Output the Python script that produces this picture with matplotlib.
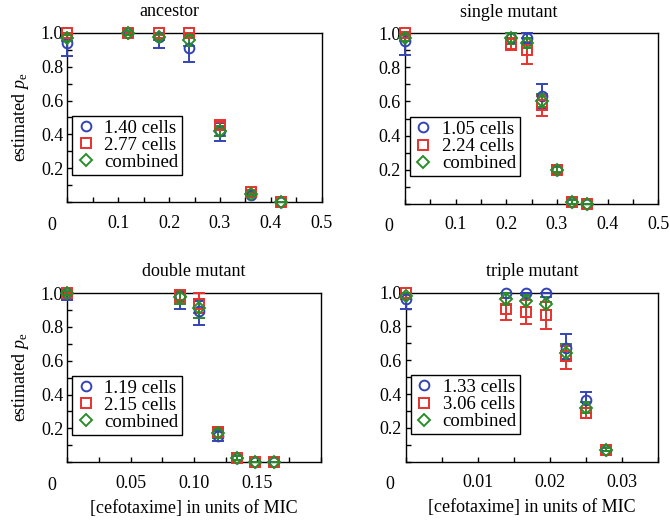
import numpy as np
import matplotlib
matplotlib.use("Agg")
from matplotlib import pyplot as plt
from matplotlib.ticker import MultipleLocator, FixedLocator, FixedFormatter

plt.rcParams['font.family'] = ['Liberation Serif', 'DejaVu Serif']
plt.rcParams['mathtext.fontset'] = 'custom'
plt.rcParams['mathtext.rm'] = 'Liberation Serif'
plt.rcParams['mathtext.it'] = 'Liberation Serif:italic'
plt.rcParams['font.size'] = 13

BLUE, RED, GREEN = '#3444b4', '#e8322e', '#2b8c2b'

# ancestor
anc_x = [0.0, 0.12, 0.18, 0.24, 0.30, 0.36, 0.42]
anc_b = [0.94, 1.0, 0.975, 0.91, 0.42, 0.045, 0.0]
anc_b_lo = [0.075, 0.01, 0.065, 0.08, 0.06, 0.01, 0.0]
anc_b_hi = [0.05, 0.0, 0.025, 0.08, 0.05, 0.01, 0.0]
anc_r = [1.0, 1.0, 1.0, 1.0, 0.455, 0.06, 0.0]
anc_r_lo = [0.01, 0.01, 0.015, 0.02, 0.025, 0.01, 0.0]
anc_r_hi = [0.0, 0.0, 0.0, 0.0, 0.02, 0.01, 0.0]
anc_g = [0.97, 1.0, 0.975, 0.955, 0.42, 0.05, 0.0]
anc_g_err = [0.02, 0.01, 0.02, 0.035, 0.03, 0.01, 0.0]

# single mutant
sin_x = [0.0, 0.21, 0.24, 0.27, 0.30, 0.33, 0.36]
sin_b = [0.955, 0.97, 0.975, 0.63, 0.2, 0.01, 0.0]
sin_b_lo = [0.08, 0.03, 0.03, 0.07, 0.025, 0.01, 0.0]
sin_b_hi = [0.04, 0.03, 0.025, 0.075, 0.025, 0.01, 0.0]
sin_r = [1.0, 0.94, 0.90, 0.58, 0.2, 0.01, 0.0]
sin_r_lo = [0.01, 0.035, 0.08, 0.065, 0.02, 0.01, 0.0]
sin_r_hi = [0.01, 0.03, 0.05, 0.05, 0.02, 0.01, 0.0]
sin_g = [0.975, 0.97, 0.945, 0.605, 0.2, 0.01, 0.0]
sin_g_err = [0.02, 0.03, 0.03, 0.04, 0.015, 0.01, 0.0]

# double mutant
dbl_x = [0.0, 0.089, 0.104, 0.119, 0.134, 0.148, 0.163]
dbl_b = [1.0, 0.98, 0.895, 0.155, 0.025, 0.0, 0.0]
dbl_b_lo = [0.04, 0.075, 0.085, 0.03, 0.01, 0.0, 0.0]
dbl_b_hi = [0.0, 0.02, 0.06, 0.03, 0.01, 0.0, 0.0]
dbl_r = [1.0, 0.99, 0.935, 0.18, 0.025, 0.0, 0.0]
dbl_r_lo = [0.01, 0.04, 0.05, 0.03, 0.01, 0.0, 0.0]
dbl_r_hi = [0.0, 0.01, 0.065, 0.03, 0.01, 0.0, 0.0]
dbl_g = [1.0, 0.975, 0.91, 0.17, 0.025, 0.0, 0.0]
dbl_g_err = [0.01, 0.04, 0.055, 0.025, 0.01, 0.0, 0.0]

# triple mutant
tri_x = [0.0, 0.0139, 0.0167, 0.0194, 0.0222, 0.0250, 0.0278]
tri_b = [0.965, 1.0, 1.0, 1.0, 0.675, 0.365, 0.07]
tri_b_lo = [0.065, 0.0, 0.0, 0.0, 0.07, 0.05, 0.01]
tri_b_hi = [0.035, 0.0, 0.0, 0.0, 0.08, 0.045, 0.01]
tri_r = [1.0, 0.9, 0.885, 0.865, 0.625, 0.285, 0.07]
tri_r_lo = [0.01, 0.065, 0.07, 0.08, 0.075, 0.025, 0.01]
tri_r_hi = [0.0, 0.07, 0.07, 0.08, 0.06, 0.03, 0.01]
tri_g = [0.98, 0.96, 0.95, 0.935, 0.645, 0.32, 0.07]
tri_g_err = [0.02, 0.035, 0.035, 0.04, 0.05, 0.03, 0.01]

panels = [
    dict(title="ancestor", x=anc_x, b=(anc_b, anc_b_lo, anc_b_hi), r=(anc_r, anc_r_lo, anc_r_hi),
         g=(anc_g, anc_g_err, anc_g_err), labels=["1.40 cells", "2.77 cells", "combined"],
         xmax=0.5, step=0.05, major=[0.1, 0.2, 0.3, 0.4, 0.5], fmt="{:.1f}",
         pos=[0.1005, 0.612, 0.3797, 0.325], tx=0.40),
    dict(title="single mutant", x=sin_x, b=(sin_b, sin_b_lo, sin_b_hi), r=(sin_r, sin_r_lo, sin_r_hi),
         g=(sin_g, sin_g_err, sin_g_err), labels=["1.05 cells", "2.24 cells", "combined"],
         xmax=0.5, step=0.05, major=[0.1, 0.2, 0.3, 0.4, 0.5], fmt="{:.1f}",
         pos=[0.6045, 0.609, 0.378, 0.327], tx=0.41),
    dict(title="double mutant", x=dbl_x, b=(dbl_b, dbl_b_lo, dbl_b_hi), r=(dbl_r, dbl_r_lo, dbl_r_hi),
         g=(dbl_g, dbl_g_err, dbl_g_err), labels=["1.19 cells", "2.15 cells", "combined"],
         xmax=0.2, step=0.025, major=[0.05, 0.10, 0.15], fmt="{:.2f}",
         pos=[0.1005, 0.113, 0.378, 0.3244], tx=0.5),
    dict(title="triple mutant", x=tri_x, b=(tri_b, tri_b_lo, tri_b_hi), r=(tri_r, tri_r_lo, tri_r_hi),
         g=(tri_g, tri_g_err, tri_g_err), labels=["1.33 cells", "3.06 cells", "combined"],
         xmax=0.035, step=0.005, major=[0.01, 0.02, 0.03], fmt="{:.2f}",
         pos=[0.6055, 0.114, 0.3765, 0.3244], tx=0.5),
]

fig = plt.figure(figsize=(6.7, 5.21), dpi=100)

for i, p in enumerate(panels):
    ax = fig.add_axes(p["pos"])
    handles = []
    for key, color, marker, ms in [("b", BLUE, "o", 7), ("r", RED, "s", 6.5), ("g", GREEN, "D", 6.5)]:
        y, lo, hi = p[key]
        eb = ax.errorbar(p["x"], y, yerr=[lo, hi], fmt="none", ecolor=color,
                         elinewidth=1.4, capsize=4.5, capthick=1.4, zorder=3)
        for art in eb.lines[1] + eb.lines[2]:
            art.set_clip_on(False)
        ln, = ax.plot(p["x"], y, linestyle="none", marker=marker, ms=ms, mfc="none",
                      mec=color, mew=1.4, clip_on=False, zorder=4)
        handles.append(ln)
    ax.set_xlim(0, p["xmax"])
    ax.set_ylim(0, 1.0)
    for s in ax.spines.values():
        s.set_linewidth(1.0)
    ax.xaxis.set_major_locator(FixedLocator(p["major"]))
    ax.xaxis.set_major_formatter(FixedFormatter([p["fmt"].format(v) for v in p["major"]]))
    ax.xaxis.set_minor_locator(MultipleLocator(p["step"]))
    ax.yaxis.set_major_locator(FixedLocator([0.2, 0.4, 0.6, 0.8, 1.0]))
    ax.yaxis.set_major_formatter(FixedFormatter(["0.2", "0.4", "0.6", "0.8", "1.0"]))
    ax.yaxis.set_minor_locator(MultipleLocator(0.1))
    ax.tick_params(axis="both", which="both", direction="in", length=3.5, width=1.0,
                   top=False, right=False)
    ax.tick_params(axis="x", which="both", pad=9)
    ax.tick_params(axis="y", which="both", pad=3)
    ax.annotate("0", xy=(0, 0), xycoords="axes fraction", xytext=(-11.5, -16.5),
                textcoords="offset points", ha="center", va="center")
    ax.set_title(p["title"], x=p["tx"], pad=12, fontsize=13)
    if i % 2 == 0:
        ax.set_ylabel(r"estimated $p_\mathrm{e}$", labelpad=7)
    if i >= 2:
        ax.set_xlabel("[cefotaxime] in units of MIC", labelpad=6)
    leg = ax.legend(handles, p["labels"], loc="lower left", bbox_to_anchor=(0.02, 0.163),
                    frameon=True, fancybox=False, framealpha=1, edgecolor="black",
                    borderpad=0.2, labelspacing=0.0, handlelength=1.0, handletextpad=0.5,
                    borderaxespad=0, fontsize=13.5)
    leg.get_frame().set_linewidth(1.0)

fig.savefig("out.png", dpi=100)
